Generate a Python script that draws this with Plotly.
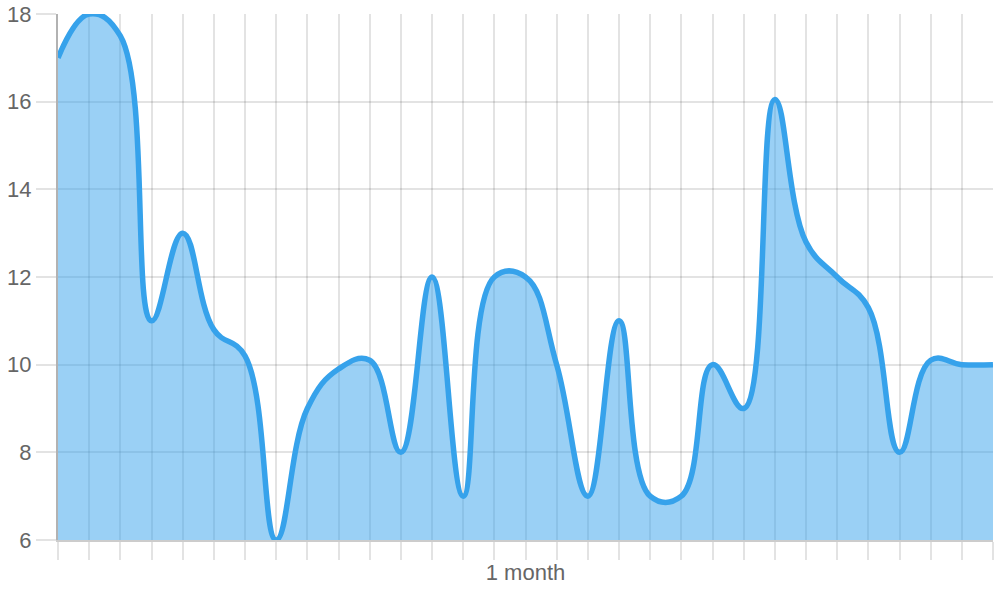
import plotly.graph_objects as go

days = list(range(31))
values = [17, 18, 17.5, 11, 13, 10.8, 10.2, 6, 9, 9.9, 10.1, 8, 12, 7, 12, 12,
          10, 7, 11, 7, 7, 10, 9, 16.05, 12.8, 12.0, 11.3, 8, 10.1, 10, 10]
y_ticks = [6, 8, 10, 12, 14, 16, 18]
x_title = "1 month"

FONT = "Liberation Sans, Arial, sans-serif"

fig = go.Figure()
fig.add_trace(go.Scatter(
    x=days, y=values, mode="lines",
    line=dict(color="rgb(54,162,235)", width=5.5, shape="spline", smoothing=1.2),
    fill="tozeroy", fillcolor="rgba(54,162,235,0.5)",
    hoverinfo="skip", showlegend=False, cliponaxis=True,
))

fig.update_layout(
    width=1000, height=600,
    margin=dict(l=58, r=7, t=14, b=60, autoexpand=False),
    paper_bgcolor="white", plot_bgcolor="white",
    font=dict(family=FONT, size=22, color="#666"),
)
fig.update_xaxes(
    range=[0, 30], tickvals=days, ticktext=["" for _ in days],
    showgrid=True, gridcolor="rgba(0,0,0,0.11)", gridwidth=2,
    ticks="outside", ticklen=18, tickcolor="rgba(0,0,0,0.11)", tickwidth=2,
    showline=True, linecolor="rgba(0,0,0,0.2)", linewidth=2,
    zeroline=False, automargin=False,
    title=dict(text=x_title, font=dict(size=22, color="#666"), standoff=1),
)
fig.update_yaxes(
    range=[6, 18], tickvals=y_ticks,
    showgrid=True, gridcolor="rgba(0,0,0,0.11)", gridwidth=2,
    ticks="outside", ticklen=20, tickcolor="rgba(0,0,0,0.11)", tickwidth=2,
    showline=True, linecolor="rgba(0,0,0,0.3)", linewidth=2,
    zeroline=False, automargin=False, tickfont=dict(size=22, color="#666"),
)

fig.write_html(
    "out.html",
    config={"displayModeBar": False},
    post_script="document.body.style.margin='0';document.body.style.overflow='hidden';",
)
